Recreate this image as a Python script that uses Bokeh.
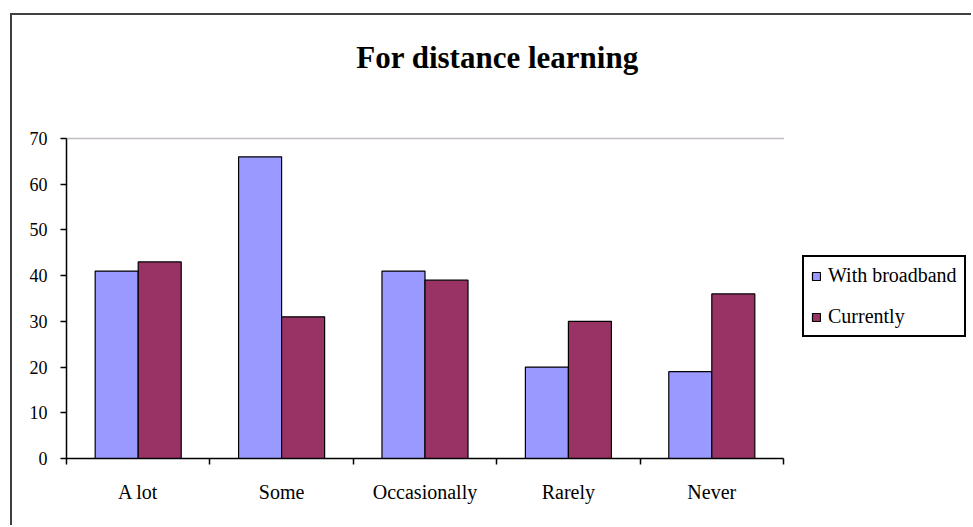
from bokeh.plotting import figure
from bokeh.models import (Range1d, FixedTicker, Legend, LegendItem, Label,
                          ColumnDataSource)
from bokeh.transform import dodge
from bokeh.embed import file_html
from bokeh.resources import INLINE

# ---- data ----
categories = ["A lot", "Some", "Occasionally", "Rarely", "Never"]
with_broadband = [41, 66, 41, 20, 19]
currently = [43, 31, 39, 30, 36]
y_ticks = [0, 10, 20, 30, 40, 50, 60, 70]
y_max = 70
title_text = "For distance learning"

FONT = "Liberation Serif"
BLUE = "#9999FF"
PLUM = "#993366"

n = len(categories)
centers = [i + 0.5 for i in range(n)]
source = ColumnDataSource(dict(x=centers, broadband=with_broadband, currently=currently))

# layout (pixels)
W, H = 961, 512
LEFT, BOTTOM = 54, 69
PLOT_W, PLOT_H = 717, 320          # width/height of the actual chart area
frame_w, frame_h = W - LEFT, H - BOTTOM

p = figure(width=W, height=H,
           x_range=Range1d(0, n * frame_w / PLOT_W),
           y_range=Range1d(0, y_max * frame_h / PLOT_H),
           output_backend="svg", toolbar_location=None,
           min_border_left=LEFT, min_border_right=0, min_border_top=0,
           min_border_bottom=BOTTOM)
p.margin = (13, 0, 0, 10)
p.styles = {"border-left": "2px solid #404040", "border-top": "2px solid #404040"}
p.background_fill_color = "white"
p.border_fill_color = "white"
p.outline_line_color = None
p.xgrid.visible = False
p.ygrid.visible = False

r1 = p.vbar(x=dodge("x", -0.15), top="broadband", width=0.3, source=source,
            fill_color=BLUE, line_color="black", line_width=1.2)
r2 = p.vbar(x=dodge("x", 0.15), top="currently", width=0.3, source=source,
            fill_color=PLUM, line_color="black", line_width=1.2)

# dotted line along the top of the value range
p.segment(x0=0, x1=n, y0=y_max, y1=y_max, line_color="#8a7a8a",
          line_dash="1 1", line_width=1.5)

# y axis
ya = p.yaxis[0]
ya.bounds = (0, y_max)
ya.ticker = FixedTicker(ticks=y_ticks)
ya.axis_line_color = "black"
ya.axis_line_width = 1.5
ya.major_tick_line_color = "black"
ya.major_tick_line_width = 1.5
ya.major_tick_out = 6
ya.major_tick_in = 0
ya.minor_tick_line_color = None
ya.major_label_text_font = FONT
ya.major_label_text_font_size = "18px"
ya.major_label_text_color = "black"
ya.major_label_standoff = 13

# x axis: labels at centers, tick marks at boundaries
xa = p.xaxis[0]
xa.bounds = (0, n)
xa.ticker = FixedTicker(ticks=centers, minor_ticks=[float(i) for i in range(n + 1)])
xa.major_label_overrides = {c: lab for c, lab in zip(centers, categories)}
xa.axis_line_color = "black"
xa.axis_line_width = 1.5
xa.major_tick_out = 0
xa.major_tick_in = 0
xa.major_tick_line_color = None
xa.minor_tick_out = 6
xa.minor_tick_in = 0
xa.minor_tick_line_color = "black"
xa.minor_tick_line_width = 1.5
xa.major_label_text_font = FONT
xa.major_label_text_font_size = "20px"
xa.major_label_text_color = "black"
xa.major_label_standoff = 16

# title
p.add_layout(Label(x=431, y=401, x_units="screen", y_units="screen", text=title_text,
                   text_align="center", text_baseline="middle", text_font=FONT,
                   text_font_size="31px", text_font_style="bold", text_color="black"))

# legend
legend = Legend(items=[LegendItem(label="With broadband", renderers=[r1]),
                       LegendItem(label="Currently", renderers=[r2])],
                location=(736, 121), margin=0, padding=7, spacing=18,
                glyph_width=10, glyph_height=10, label_standoff=7,
                label_text_font=FONT, label_text_font_size="20px",
                label_text_color="black",
                border_line_color="black", border_line_width=2, border_line_alpha=1,
                background_fill_color="white", background_fill_alpha=1)
p.add_layout(legend)

open("out.html", "w").write(file_html(p, INLINE))
